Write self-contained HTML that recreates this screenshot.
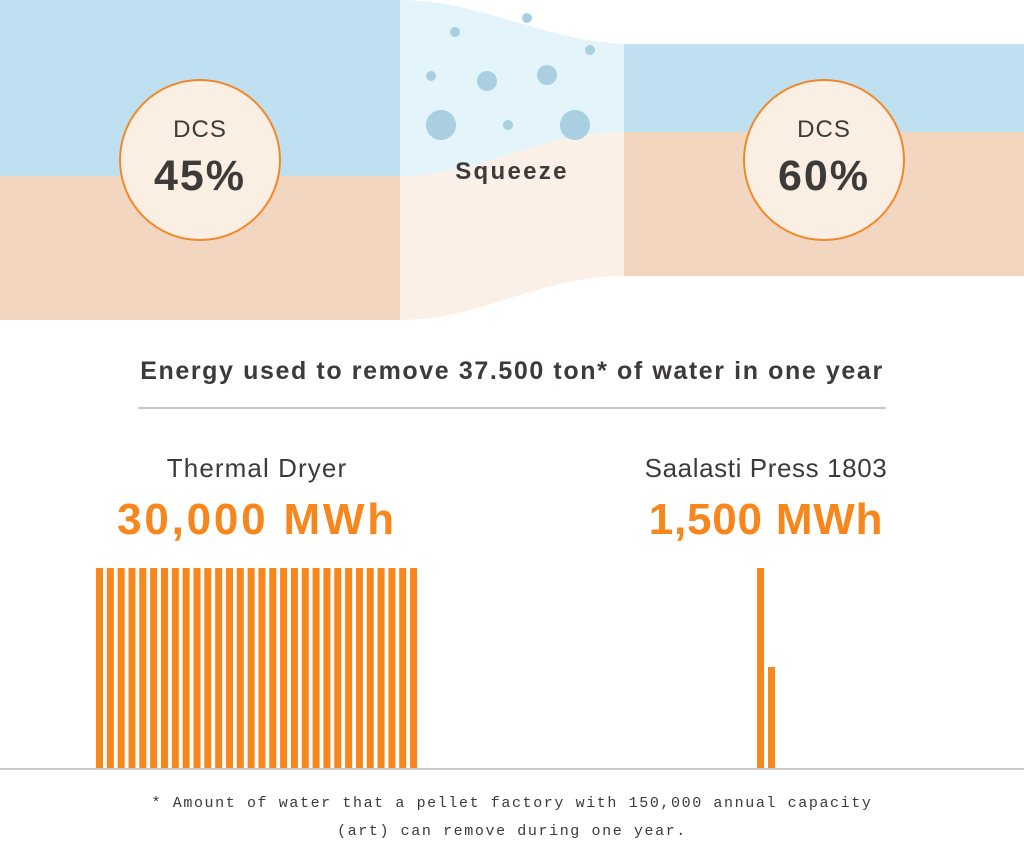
<!DOCTYPE html>
<html><head><style>
body{margin:0;width:1024px;height:841px;background:#fff;position:relative;overflow:hidden;font-family:"Liberation Sans",sans-serif}
.t{position:absolute;text-align:center;color:#3d3a39}
</style></head><body>
<svg width="1024" height="841" style="position:absolute;left:0;top:0">
<rect x="0" y="0" width="400" height="176" fill="#bfe0f1"/>
<rect x="0" y="176" width="400" height="144" fill="#f3d6bf"/>
<rect x="624" y="44" width="400" height="88" fill="#bfe0f1"/>
<rect x="624" y="132" width="400" height="144" fill="#f3d6bf"/>
<path d="M400 0 C480 0 540 40 624 44 L624 132 C540 132 480 176 400 176 Z" fill="#e3f4fb"/>
<path d="M400 176 C480 176 540 132 624 132 L624 276 C540 276 480 320 400 320 Z" fill="#fbf0e8"/>
<g fill="#a9cfe0">
<circle cx="441" cy="125" r="15"/><circle cx="575" cy="125" r="15"/>
<circle cx="487" cy="81" r="10"/><circle cx="547" cy="75" r="10"/>
<circle cx="431" cy="76" r="5"/><circle cx="455" cy="32" r="5"/>
<circle cx="527" cy="18" r="5"/><circle cx="590" cy="50" r="5"/><circle cx="508" cy="125" r="5"/>
</g>
<circle cx="200" cy="160" r="80" fill="#fbeee3" stroke="#f0892a" stroke-width="2"/>
<circle cx="824" cy="160" r="80" fill="#fbeee3" stroke="#f0892a" stroke-width="2"/>
<line x1="138" y1="408" x2="886" y2="408" stroke="#c8c8c8" stroke-width="2"/>
<g fill="#f7861c" id="b"></g>
<rect x="757" y="568" width="7" height="200" fill="#f7861c"/>
<rect x="768" y="667" width="7" height="101" fill="#f7861c"/>
<line x1="0" y1="769" x2="1024" y2="769" stroke="#c8c8c8" stroke-width="2"/>
</svg>
<div class="t" style="left:120px;top:116px;width:160px;font-size:24px;letter-spacing:1px">DCS</div>
<div class="t" style="left:120px;top:152px;width:160px;font-size:43px;font-weight:bold;letter-spacing:2px">45%</div>
<div class="t" style="left:744px;top:116px;width:160px;font-size:24px;letter-spacing:1px">DCS</div>
<div class="t" style="left:744px;top:152px;width:160px;font-size:43px;font-weight:bold;letter-spacing:2px">60%</div>
<div class="t" style="left:412px;top:158px;width:200px;font-size:24px;font-weight:bold;letter-spacing:2.3px">Squeeze</div>
<div class="t" style="left:50px;top:357px;width:924px;font-size:25px;font-weight:bold;letter-spacing:1.6px">Energy used to remove 37.500 ton* of water in one year</div>
<div class="t" style="left:107px;top:453px;width:300px;font-size:26px;letter-spacing:1.1px">Thermal Dryer</div>
<div class="t" style="left:87px;top:495px;width:340px;font-size:44px;font-weight:bold;color:#f7861c;letter-spacing:2.8px">30,000 MWh</div>
<div class="t" style="left:616px;top:453px;width:300px;font-size:26px;letter-spacing:0.6px">Saalasti Press 1803</div>
<div class="t" style="left:596px;top:495px;width:340px;font-size:44px;font-weight:bold;color:#f7861c;letter-spacing:0.8px">1,500 MWh</div>
<div class="t" style="left:62px;top:790px;width:900px;font-size:15px;line-height:28px;letter-spacing:1.6px;font-family:'Liberation Mono',monospace">* Amount of water that a pellet factory with 150,000 annual capacity<br>(art) can remove during one year.</div>
<script>
var g=document.getElementById('b'),s='';
for(var i=0;i<30;i++){s+='<rect x="'+(96+i*10.83).toFixed(2)+'" y="568" width="7" height="200"/>';}
g.innerHTML=s;
</script>
</body></html>
